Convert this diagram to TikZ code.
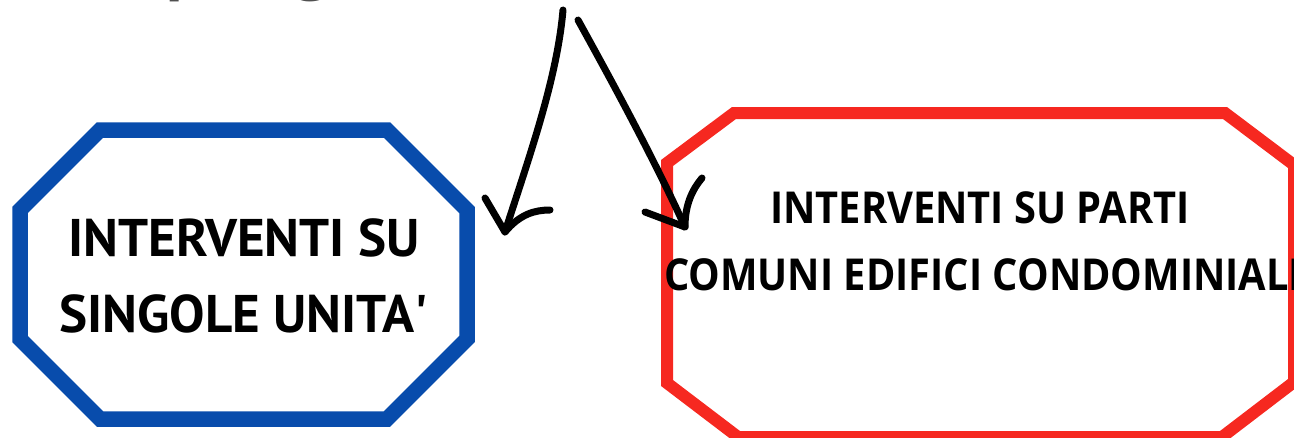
\documentclass[tikz,border=0pt]{standalone}
\usepackage{fontspec}
\newfontfamily\bluefont{PT Sans}
\newfontfamily\redfont{Open Sans}[FakeStretch=0.905]
\newfontfamily\titlefont{Open Sans}
\definecolor{octblue}{RGB}{8,76,172}
\definecolor{octred}{RGB}{246,40,32}
\definecolor{titlegrey}{RGB}{80,80,80}
\tikzset{
  octline/.style={line width=#1, line join=miter},
  ink/.style={line width=7pt, line cap=round, line join=round, black},
  bluetext/.style={anchor=base, inner sep=0pt, font=\bluefont\bfseries\fontsize{53}{53}\selectfont},
  redtext/.style={anchor=base, inner sep=0pt, font=\redfont\bfseries\fontsize{44}{44}\selectfont},
}
\begin{document}
\begin{tikzpicture}[x=1pt,y=-1pt]
\useasboundingbox (0,0) rectangle (1294,437);
\begin{scope}
\clip (0,0) rectangle (1294,437);

% heading above the picture, only its descenders fall inside
\node[anchor=base west, inner sep=0pt, text=titlegrey,
      font=\titlefont\bfseries\fontsize{60}{60}\selectfont] (title) at (112,-13) {Tipologie};

% left box: single units
\draw[octblue, octline=15.5pt]
  (100,130) -- (387,130) -- (467,210) -- (467,339) -- (387,419)
  -- (100,419) -- (20,339) -- (20,210) -- cycle;
\node[bluetext] (single1) at (244,256) {INTERVENTI SU};
\node[bluetext] (single2) at (244,332) {SINGOLE UNITA\textquotesingle};

% right box: common parts of condominium buildings
\draw[octred, octline=12pt]
  (734,113) -- (1225,113) -- (1294,165) -- (1294,382) -- (1222,437)
  -- (738,437) -- (667,383) -- (667,163) -- cycle;
\node[redtext] (common1) at (980,223) {INTERVENTI SU PARTI};
\node[redtext] (common2) at (983,290) {COMUNI EDIFICI CONDOMINIALI};

% hand-drawn arrows
\coordinate (la) at (563,10);
\coordinate (lt) at (505,232);
\coordinate (lb1) at (485,198);
\coordinate (lb2) at (550,210);
\coordinate (ra) at (578,20);
\coordinate (rt) at (685,227);
\coordinate (rb1) at (645,212);
\coordinate (rb2) at (702,178);

\draw[ink] (la) .. controls (557,80) and (528,160) .. (lt);
\draw[ink] (lb1) -- (lt) .. controls (520,214) and (535,210) .. (lb2);
\draw[ink] (ra) .. controls (600,60) and (650,150) .. (rt);
\draw[ink] (rb1) -- (rt) .. controls (685,205) and (692,190) .. (rb2);
\end{scope}
\end{tikzpicture}
\end{document}
